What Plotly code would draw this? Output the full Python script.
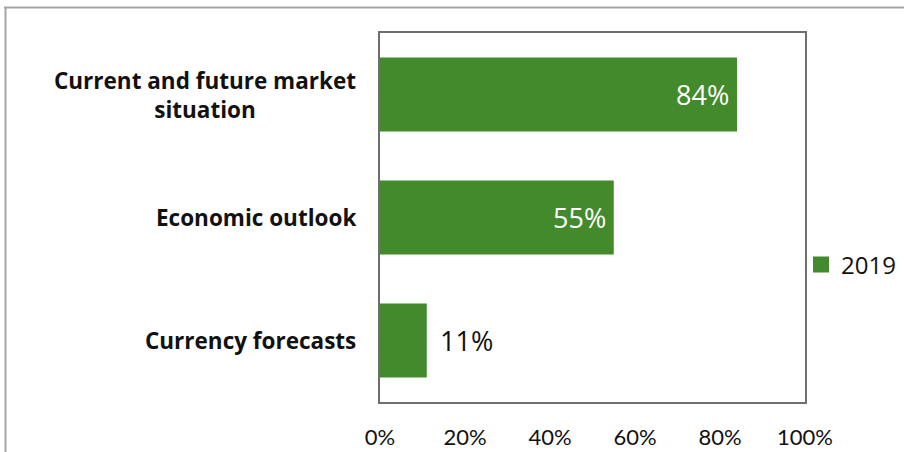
import plotly.graph_objects as go

# Share of respondents citing each factor, 2019 survey
categories = ["Current and future market<br>situation", "Economic outlook", "Currency forecasts"]
values_2019 = [84, 55, 11]
series_name = "2019"
x_ticks = [0, 20, 40, 60, 80, 100]
x_tick_labels = ["0%", "20%", "40%", "60%", "80%", "100%"]

GREEN = "#438a2c"
LABEL_FONT = "Open Sans"
TICK_FONT = "Lato"
INK = "#111111"

# Plot-area geometry (pixels) used to place the paper-level frame
W, H = 904, 452
L, R, T, B = 380, 99, 33, 50
pw, ph = W - L - R, H - T - B


def px_x(x):
    return (x - L) / pw


def px_y(y):
    return (H - B - y) / ph


fig = go.Figure()
fig.add_trace(
    go.Bar(
        y=categories,
        x=values_2019,
        orientation="h",
        name=series_name,
        marker=dict(color=GREEN, line=dict(width=0)),
        showlegend=False,
        hoverinfo="x+y",
    )
)
# legend swatch drawn as a larger square marker
fig.add_trace(
    go.Scatter(
        x=[None], y=[None], mode="markers", name=series_name,
        marker=dict(symbol="square", size=16, color=GREEN),
        showlegend=True,
    )
)

annotations = []
# Category labels, right-aligned to the left of the plot area
for c in categories:
    annotations.append(
        dict(
            x=px_x(358), xref="paper", y=c, yref="y",
            text=f"<b>{c}</b>", showarrow=False,
            xanchor="right", yanchor="middle", align="center",
            font=dict(size=22.5, family=LABEL_FONT, color=INK),
        )
    )

# Value labels: inside the bar end when it fits, otherwise just beyond it
for c, v in zip(categories, values_2019):
    inside = v >= 30
    annotations.append(
        dict(
            x=v, xref="x", y=c, yref="y", text=f"{v}%", showarrow=False,
            xanchor="right" if inside else "left",
            xshift=-6 if inside else 11,
            yanchor="middle",
            font=dict(size=27, family=LABEL_FONT, color="white" if inside else INK),
        )
    )

shapes = [
    # outer chart frame (top and left edges)
    dict(type="line", xref="paper", yref="paper",
         x0=px_x(4), x1=px_x(910), y0=px_y(7.5), y1=px_y(7.5),
         line=dict(color="#a6a6a6", width=2)),
    dict(type="line", xref="paper", yref="paper",
         x0=px_x(5.5), x1=px_x(5.5), y0=px_y(7), y1=px_y(460),
         line=dict(color="#a6a6a6", width=2)),
]

fig.update_layout(
    width=W, height=H,
    margin=dict(l=L, r=R, t=T, b=B, autoexpand=False),
    paper_bgcolor="white", plot_bgcolor="white",
    bargap=0.4,
    font=dict(family=LABEL_FONT, color=INK),
    xaxis=dict(
        range=[0, 100], tickvals=x_ticks, ticktext=x_tick_labels,
        showgrid=False, zeroline=False, ticks="",
        showline=True, mirror=True, linecolor="#6e6e6e", linewidth=2,
        tickfont=dict(size=22, family=TICK_FONT, color=INK),
        ticklabelstandoff=15, automargin=False,
        fixedrange=True,
    ),
    yaxis=dict(
        categoryorder="array", categoryarray=categories[::-1],
        showticklabels=False, showgrid=False, zeroline=False, ticks="",
        showline=True, mirror=True, linecolor="#6e6e6e", linewidth=2,
        automargin=False, fixedrange=True,
    ),
    legend=dict(
        x=801 / W, y=1 - 265 / H, xref="container", yref="container",
        xanchor="left", yanchor="middle",
        font=dict(size=24, family=LABEL_FONT, color=INK),
        itemwidth=30, bgcolor="rgba(0,0,0,0)",
    ),
    annotations=annotations,
    shapes=shapes,
)

fig.write_html("out.html")
